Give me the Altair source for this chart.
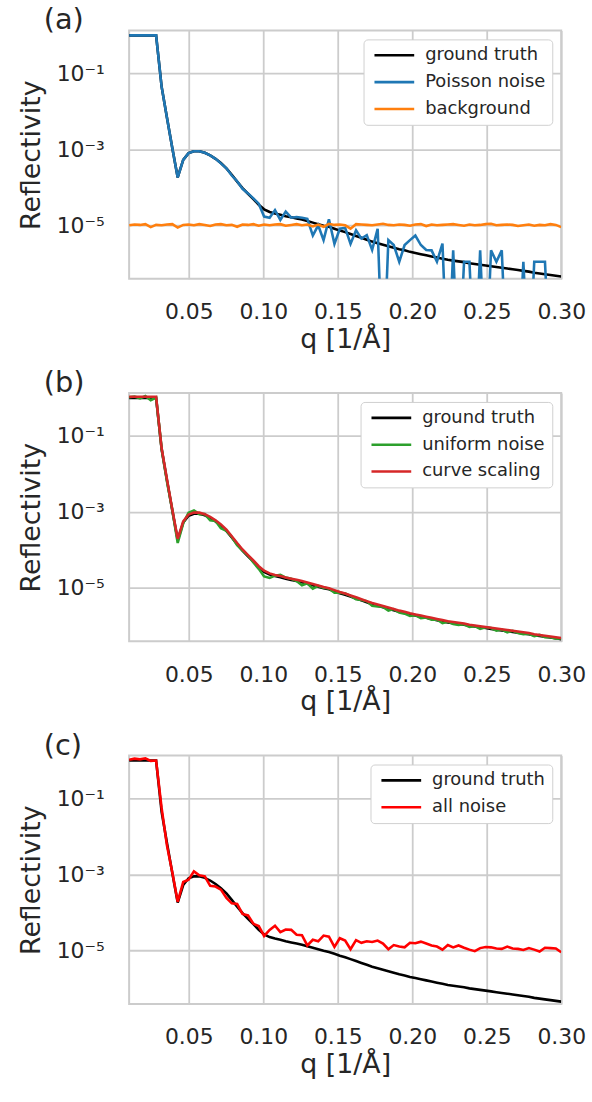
import altair as alt
import pandas as pd

# ---- data (log10 of reflectivity) ----
q_values = [
    0.0100, 0.0136, 0.0173, 0.0209, 0.0245, 0.0281, 0.0318, 0.0354, 0.0390,
    0.0426, 0.0463, 0.0499, 0.0535, 0.0571, 0.0608, 0.0644, 0.0680, 0.0716,
    0.0753, 0.0789, 0.0825, 0.0861, 0.0898, 0.0934, 0.0970, 0.1006, 0.1043,
    0.1079, 0.1115, 0.1151, 0.1188, 0.1224, 0.1260, 0.1296, 0.1333, 0.1369,
    0.1405, 0.1441, 0.1478, 0.1514, 0.1550, 0.1586, 0.1623, 0.1659, 0.1695,
    0.1731, 0.1768, 0.1804, 0.1840, 0.1876, 0.1913, 0.1949, 0.1985, 0.2021,
    0.2058, 0.2094, 0.2130, 0.2166, 0.2203, 0.2239, 0.2275, 0.2311, 0.2348,
    0.2384, 0.2420, 0.2456, 0.2493, 0.2529, 0.2565, 0.2601, 0.2638, 0.2674,
    0.2710, 0.2746, 0.2783, 0.2819, 0.2855, 0.2891, 0.2928, 0.2964, 0.3000,
]

log_ground_truth = [
    0.00, 0.00, 0.00, 0.00, 0.00, 0.00, -1.35, -2.17, -2.97,
    -3.74, -3.28, -3.10, -3.05, -3.05, -3.09, -3.16, -3.25, -3.36,
    -3.50, -3.67, -3.85, -4.02, -4.17, -4.31, -4.46, -4.58, -4.65,
    -4.69, -4.72, -4.76, -4.79, -4.82, -4.85, -4.89, -4.93, -4.97,
    -5.01, -5.04, -5.09, -5.14, -5.18, -5.23, -5.28, -5.33, -5.38,
    -5.43, -5.47, -5.51, -5.55, -5.59, -5.63, -5.66, -5.70, -5.73,
    -5.76, -5.79, -5.82, -5.85, -5.88, -5.91, -5.93, -5.95, -5.97,
    -6.00, -6.02, -6.04, -6.06, -6.08, -6.10, -6.12, -6.14, -6.16,
    -6.18, -6.20, -6.22, -6.25, -6.27, -6.29, -6.31, -6.33, -6.35,
]

# -9 marks a zero count (falls below the axis)
log_poisson_noise = [
    0.00, 0.00, 0.00, 0.00, 0.00, 0.00, -1.35, -2.17, -2.97,
    -3.74, -3.28, -3.10, -3.05, -3.05, -3.09, -3.16, -3.25, -3.37,
    -3.50, -3.69, -3.84, -4.04, -4.16, -4.29, -4.43, -4.77, -4.80,
    -4.60, -4.86, -4.64, -4.80, -4.78, -4.80, -4.83, -5.27, -5.00,
    -5.39, -4.84, -5.49, -5.09, -5.07, -5.49, -5.13, -5.35, -5.26,
    -5.65, -5.09, -9.00, -5.39, -5.52, -5.96, -5.52, -5.39, -5.27,
    -5.52, -5.65, -5.66, -5.96, -5.48, -9.00, -5.66, -9.00, -5.96,
    -5.96, -9.00, -5.66, -9.00, -5.66, -5.96, -5.66, -9.00, -9.00,
    -9.00, -5.96, -9.00, -5.96, -5.96, -5.96, -9.00, -9.00, -9.00,
]

log_background = [
    -5.00, -4.98, -4.99, -4.97, -5.05, -4.99, -5.00, -4.98, -4.97,
    -5.06, -4.99, -4.98, -5.00, -4.97, -4.99, -5.02, -4.98, -4.97,
    -5.00, -4.99, -5.04, -4.98, -4.99, -4.97, -5.01, -4.98, -5.00,
    -4.98, -4.97, -5.01, -4.99, -4.97, -5.00, -4.98, -5.03, -4.98,
    -5.04, -4.96, -4.99, -4.98, -5.00, -5.09, -4.97, -4.98, -4.99,
    -5.00, -4.98, -4.96, -4.99, -5.00, -4.98, -4.99, -5.01, -4.98,
    -4.97, -5.02, -4.98, -5.00, -4.99, -4.98, -4.97, -4.99, -5.01,
    -4.98, -5.00, -4.99, -4.97, -4.96, -5.00, -4.99, -4.98, -4.99,
    -5.02, -5.00, -4.98, -5.01, -4.99, -5.00, -4.97, -4.99, -5.05,
]

log_uniform_noise = [
    0.02, 0.04, -0.01, 0.05, -0.06, 0.01, -1.33, -2.20, -2.95,
    -3.82, -3.30, -3.02, -2.96, -3.06, -3.06, -3.22, -3.24, -3.43,
    -3.50, -3.66, -3.88, -4.02, -4.15, -4.33, -4.50, -4.70, -4.74,
    -4.68, -4.66, -4.73, -4.76, -4.82, -4.93, -4.88, -5.02, -4.95,
    -5.00, -5.02, -5.13, -5.13, -5.15, -5.21, -5.30, -5.32, -5.35,
    -5.47, -5.49, -5.50, -5.60, -5.56, -5.65, -5.68, -5.74, -5.72,
    -5.80, -5.78, -5.84, -5.83, -5.93, -5.89, -5.95, -5.98, -5.96,
    -6.03, -6.01, -6.08, -6.04, -6.06, -6.13, -6.10, -6.17, -6.13,
    -6.19, -6.22, -6.21, -6.27, -6.24, -6.30, -6.30, -6.34, -6.33,
]

log_curve_scaling = [
    0.03, 0.03, 0.03, 0.03, 0.03, 0.03, -1.32, -2.14, -2.94,
    -3.71, -3.25, -3.07, -3.02, -3.02, -3.06, -3.13, -3.22, -3.33,
    -3.47, -3.64, -3.82, -3.99, -4.14, -4.28, -4.43, -4.55, -4.62,
    -4.66, -4.69, -4.73, -4.76, -4.79, -4.82, -4.86, -4.90, -4.94,
    -4.98, -5.01, -5.06, -5.11, -5.15, -5.20, -5.25, -5.30, -5.35,
    -5.40, -5.44, -5.48, -5.52, -5.56, -5.60, -5.63, -5.67, -5.70,
    -5.73, -5.76, -5.79, -5.82, -5.85, -5.88, -5.90, -5.92, -5.94,
    -5.97, -5.99, -6.01, -6.03, -6.05, -6.07, -6.09, -6.11, -6.13,
    -6.15, -6.17, -6.19, -6.22, -6.24, -6.26, -6.28, -6.30, -6.32,
]

log_all_noise = [
    0.02, 0.05, 0.03, 0.06, -0.01, 0.00, -1.25, -2.24, -2.95,
    -3.72, -3.20, -3.14, -2.92, -3.02, -3.05, -3.30, -3.32, -3.40,
    -3.62, -3.76, -3.78, -4.04, -4.08, -4.30, -4.36, -4.62, -4.46,
    -4.35, -4.52, -4.45, -4.46, -4.59, -4.60, -4.87, -4.72, -4.76,
    -4.61, -4.64, -4.91, -4.68, -4.74, -4.97, -4.73, -4.80, -4.76,
    -4.78, -4.74, -4.82, -4.97, -4.86, -4.90, -4.92, -4.80, -4.81,
    -4.77, -4.82, -4.87, -4.90, -4.98, -4.86, -4.92, -4.87, -4.93,
    -4.98, -5.02, -4.94, -4.91, -4.92, -4.95, -4.96, -4.90, -4.95,
    -4.96, -4.99, -4.94, -4.98, -5.03, -4.93, -4.94, -4.95, -5.05,
]

x_ticks = [0.05, 0.10, 0.15, 0.20, 0.25, 0.30]
y_ticks = [1e-1, 1e-3, 1e-5]

FONT = "DejaVu Sans"
TXT = "#262626"
GRID = "#cccccc"
LEGEND_LINE = "M-1,0H7"   # long, low legend line sample


def make_panel(label, names, colors, series):
    layers = []
    for name, vals in zip(names, series):
        df = pd.DataFrame({
            "q": q_values,
            "R": [10.0 ** v for v in vals],
            "series": name,
        })
        layers.append(
            alt.Chart(df).mark_line(strokeWidth=2.6, clip=True).encode(
                x=alt.X(
                    "q:Q",
                    scale=alt.Scale(domain=[0.01, 0.30], nice=False, zero=False),
                    axis=alt.Axis(values=x_ticks, format=".2f", title="q [1/Å]",
                                  labelFlush=False, labelOverlap=False,
                                  titlePadding=4, labelPadding=23),
                ),
                y=alt.Y(
                    "R:Q",
                    scale=alt.Scale(type="log", domain=[3.9e-7, 1.35], nice=False),
                    axis=alt.Axis(
                        values=y_ticks, title="Reflectivity",
                        labelFlush=False, labelOverlap=False,
                        labelExpr="datum.value > 0.05 ? '10⁻¹' : (datum.value > 0.0005 ? '10⁻³' : '10⁻⁵')",
                        labelPadding=25, titlePadding=11,
                    ),
                ),
                color=alt.Color(
                    "series:N",
                    scale=alt.Scale(domain=names, range=colors),
                    legend=alt.Legend(
                        title=None, orient="top-right", offset=9,
                        symbolType=LEGEND_LINE, symbolSize=100, symbolStrokeWidth=2.6,
                        symbolFillColor="transparent",
                        labelFontSize=18, labelFont=FONT, labelColor=TXT,
                        labelOffset=37, rowPadding=9, padding=7,
                        fillColor="white", strokeColor="#d0d0d0", cornerRadius=4,
                    ),
                ),
            )
        )
    return alt.layer(*layers).properties(
        width=435, height=250,
        title=alt.TitleParams(text=label, anchor="start", frame="group", dx=-86,
                              fontSize=29, font=FONT, color=TXT, fontWeight="normal",
                              offset=-5),
    )


pa = make_panel("(a)", ["ground truth", "Poisson noise", "background"],
                ["#000000", "#1f77b4", "#ff7f0e"],
                [log_ground_truth, log_poisson_noise, log_background])
pb = make_panel("(b)", ["ground truth", "uniform noise", "curve scaling"],
                ["#000000", "#2ca02c", "#d62728"],
                [log_ground_truth, log_uniform_noise, log_curve_scaling])
pc = make_panel("(c)", ["ground truth", "all noise"],
                ["#000000", "#ff0000"],
                [log_ground_truth, log_all_noise])

chart = (
    alt.vconcat(pa, pb, pc, spacing=15)
    .resolve_scale(color="independent")
    .properties(padding={"left": 16, "top": 2, "right": 5, "bottom": 5})
    .configure(font=FONT)
    .configure_view(stroke=GRID, strokeWidth=2)
    .configure_axis(
        grid=True, gridColor=GRID, gridWidth=1.8, domain=False, ticks=False,
        labelFont=FONT, labelFontSize=22, labelColor=TXT,
        titleFont=FONT, titleFontSize=27, titleColor=TXT, titleFontWeight="normal",
    )
)

chart.save("out.html", embed_options={"renderer": "svg", "actions": False})
